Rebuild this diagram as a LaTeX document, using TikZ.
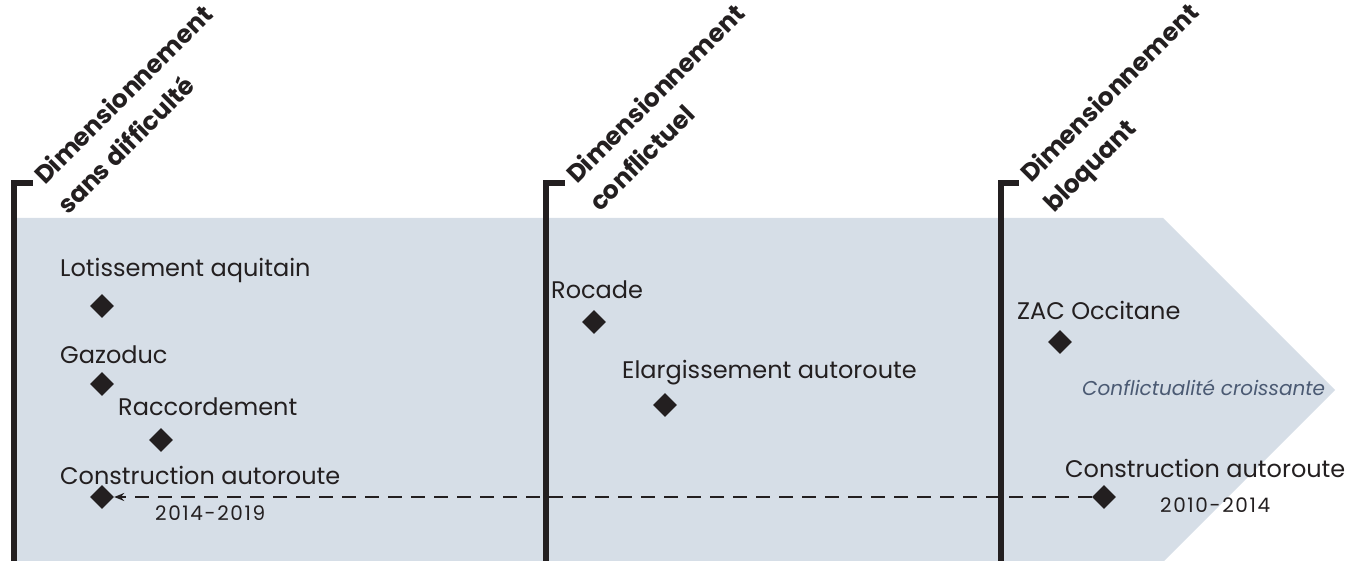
\documentclass[tikz,border=0pt]{standalone}
\usepackage{fontspec}
\setmainfont{Poppins}
\usetikzlibrary{shapes.geometric,arrows.meta}
\definecolor{band}{HTML}{D6DEE7}
\definecolor{ink}{HTML}{231F20}
\definecolor{slate}{HTML}{4B5A73}
\begin{document}
\begin{tikzpicture}[x=1pt,y=-1pt,
  lbl/.style={anchor=west,inner sep=0pt,text=ink,font=\fontsize{24}{28}\selectfont},
  yr/.style={anchor=west,inner sep=0pt,text=ink,font=\fontsize{20}{22}\selectfont\addfontfeatures{LetterSpace=8}},
  head/.style={anchor=base west,inner sep=0pt,rotate=45,text=ink,font=\fontsize{25}{28}\selectfont\bfseries},
  gem/.style={diamond,fill=ink,minimum width=24pt,minimum height=24pt,inner sep=0pt},
  bar/.style={draw=ink,line width=6pt,miter limit=10}]
\useasboundingbox (0,0) rectangle (1350,561);
% band
\fill[band] (14,218) -- (1163,218) -- (1335,390) -- (1163,562) -- (14,562) -- cycle;
% bars
\draw[bar] (13.5,562) -- (13.5,183) -- (33,183);
\draw[bar] (546,562) -- (546,183) -- (565,183);
\draw[bar] (1000.5,562) -- (1000.5,183) -- (1019,183);
% headings
\node[head] (h1a) at (45,186) {Dimensionnement};
\node[head] (h1b) at (68,216) {sans difficulté};
\node[head] (h2a) at (577,185) {Dimensionnement};
\node[head] (h2b) at (600,213) {conflictuel};
\node[head] (h3a) at (1031,184) {Dimensionnement};
\node[head] (h3b) at (1054,214) {bloquant};
% items column 1
\node[lbl] (t1) at (60,270) {Lotissement aquitain};
\node[gem] (d1) at (102,306) {};
\node[lbl] (t2) at (60,355) {Gazoduc};
\node[gem] (d2) at (102,384) {};
\node[lbl] (t3) at (118,407) {Raccordement};
\node[gem] (d3) at (161,440) {};
\node[lbl] (t4) at (60,475) {Construction autoroute};
\node[gem] (d4) at (102,497) {};
\node[yr] (y1) at (155,513) {2014-2019};
% column 2
\node[lbl] (t5) at (551,290) {Rocade};
\node[gem] (d5) at (594,322) {};
\node[lbl] (t6) at (622,373) {Elargissement autoroute};
\node[gem] (d6) at (665,405) {};
% column 3
\node[lbl] (t7) at (1017,310) {ZAC Occitane};
\node[gem] (d7) at (1060,342) {};
\node[anchor=west,inner sep=0pt,text=slate,font=\fontsize{20}{24}\selectfont\itshape] (c1) at (1082,388) {Conflictualité croissante};
\node[lbl] (t8) at (1065,468) {Construction autoroute};
\node[gem] (d8) at (1104,497) {};
\node[yr] (y2) at (1160,505) {2010-2014};
% dashed link
\draw[ink,line width=2pt,dash pattern=on 14pt off 9pt,-{Stealth[length=10pt,width=8pt]}] (d8.west) -- (d4.east);
\end{tikzpicture}
\end{document}
